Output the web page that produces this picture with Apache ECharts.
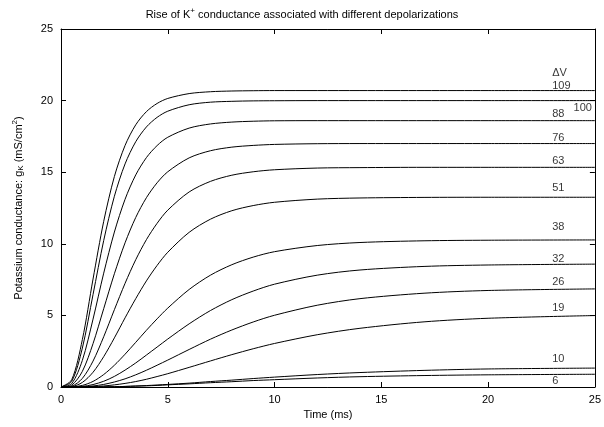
<!DOCTYPE html>
<html>
<head>
<meta charset="utf-8">
<script src="https://cdn.jsdelivr.net/npm/echarts@6/dist/echarts.min.js"></script>
<style>
html,body{margin:0;padding:0;background:#fff;}
#chart{width:604px;height:427px;}
</style>
</head>
<body>
<div id="chart"></div>
<script>
// Time samples (ms)
var timeMs = [0,0.5,1,1.5,2,2.5,3,3.5,4,4.5,5,6,7,8,9,10,12,14,17,20,25];

// Depolarizations (mV)
var depolarizations = ['109','100','88','76','63','51','38','32','26','19','10','6'];

// Potassium conductance (mS/cm^2), one array per depolarization
var g109 = [0,0.50,3.31,7.54,11.57,14.70,16.87,18.31,19.23,19.80,20.15,20.49,20.62,20.67,20.69,20.70,20.70,20.70,20.70,20.70,20.70];
var g100 = [0,0.39,2.72,6.46,10.23,13.32,15.58,17.13,18.16,18.83,19.26,19.71,19.89,19.95,19.98,19.99,20.00,20.00,20.00,20.00,20.00];
var g88  = [0,0.24,1.86,4.74,7.95,10.82,13.11,14.81,16.02,16.86,17.44,18.08,18.37,18.50,18.56,18.59,18.60,18.60,18.60,18.60,18.60];
var g76  = [0,0.13,1.09,3.03,5.47,7.91,10.07,11.84,13.22,14.26,15.03,16.00,16.50,16.75,16.87,16.94,16.99,17.00,17.00,17.00,17.00];
var g63  = [0,0.06,0.60,1.81,3.51,5.40,7.24,8.89,10.29,11.43,12.35,13.62,14.36,14.79,15.03,15.17,15.29,15.32,15.34,15.34,15.34];
var g51  = [0,0.03,0.32,1.03,2.12,3.43,4.83,6.17,7.41,8.49,9.41,10.80,11.72,12.31,12.67,12.90,13.12,13.20,13.24,13.25,13.25];
var g38  = [0,0.01,0.11,0.39,0.87,1.52,2.29,3.12,3.96,4.76,5.51,6.81,7.81,8.54,9.07,9.45,9.88,10.09,10.21,10.25,10.27];
var g32  = [0,0.00,0.04,0.17,0.40,0.74,1.18,1.68,2.23,2.79,3.35,4.41,5.34,6.10,6.70,7.18,7.81,8.17,8.42,8.52,8.58];
var g26  = [0,0.00,0.02,0.07,0.18,0.35,0.57,0.85,1.17,1.52,1.88,2.62,3.34,3.98,4.54,5.01,5.71,6.17,6.55,6.74,6.85];
var g19  = [0,0.00,0.01,0.03,0.07,0.15,0.25,0.38,0.54,0.73,0.93,1.37,1.82,2.26,2.67,3.04,3.65,4.10,4.55,4.80,4.99];
var g10  = [0,0.00,0.00,0.00,0.01,0.02,0.04,0.07,0.10,0.14,0.18,0.27,0.38,0.48,0.59,0.69,0.87,1.01,1.16,1.26,1.32];
var g6   = [0,0.00,0.00,0.004,0.01,0.02,0.04,0.06,0.08,0.11,0.15,0.22,0.30,0.37,0.45,0.51,0.63,0.72,0.80,0.85,0.89];

var curves = [g109,g100,g88,g76,g63,g51,g38,g32,g26,g19,g10,g6];

// Curve labels: text and their anchor in data space (time, conductance)
var labelTexts = ['\u0394V','109','100','88','76','63','51','38','32','26','19','10','6'];
var labelTime  = [23.0,23.0,24.0,23.0,23.0,23.0,23.0,23.0,23.0,23.0,23.0,23.0,23.0];
var labelCond  = [21.9,21.05,19.5,19.1,17.4,15.8,13.9,11.2,8.95,7.35,5.55,1.95,0.45];

// Axis ticks
var xTicks = {min:0, max:25, interval:5};
var yTicks = {min:0, max:25, interval:5};

var FONT = 'Liberation Sans, Arial, Helvetica, sans-serif';

var series = curves.map(function(vals, i){
  return {
    name: depolarizations[i],
    type: 'line',
    data: timeMs.map(function(t, k){ return [t, vals[k]]; }),
    showSymbol: false,
    smooth: 0.3,
    lineStyle: {color:'#000', width:1},
    itemStyle: {color:'#000'},
    silent: true,
    animation: false,
    z: 3
  };
});

series.push({
  type: 'scatter',
  symbolSize: 0,
  silent: true,
  animation: false,
  data: labelTexts.map(function(txt, i){ return {value:[labelTime[i], labelCond[i]], name: txt}; }),
  label: {
    show: true,
    position: 'right',
    distance: 0,
    formatter: function(p){ return p.name; },
    color: '#000',
    fontFamily: FONT,
    fontSize: 11
  },
  z: 5
});

var axisCommonX = {
  type:'value', min:xTicks.min, max:xTicks.max, interval:xTicks.interval,
  axisLine:{show:true, onZero:false, lineStyle:{color:'#000', width:1}},
  axisTick:{show:true, inside:true, length:5, lineStyle:{color:'#000'}},
  splitLine:{show:false}
};
var axisCommonY = {
  type:'value', min:yTicks.min, max:yTicks.max, interval:yTicks.interval,
  axisLine:{show:true, onZero:false, lineStyle:{color:'#000', width:1}},
  axisTick:{show:true, inside:true, length:5, lineStyle:{color:'#000'}},
  splitLine:{show:false}
};

var option = {
  backgroundColor:'#fff',
  animation:false,
  title: {
    text: 'Rise of K{sup|+} conductance associated with different depolarizations',
    left: 'center',
    top: 2,
    textStyle: {
      fontFamily: FONT, fontSize: 11, fontWeight: 'normal', color:'#000',
      rich: { sup: {fontSize: 8, fontFamily: FONT, color:'#000', padding:[0,0,7,0]} }
    }
  },
  grid: {left:61, right:5, top:29, bottom:40, containLabel:false},
  xAxis: [
    Object.assign({}, axisCommonX, {
      position:'bottom',
      name:'Time (ms)', nameLocation:'middle', nameGap:22,
      nameTextStyle:{fontFamily:FONT, fontSize:11, color:'#000'},
      axisLabel:{show:true, color:'#000', fontFamily:FONT, fontSize:11, margin:7}
    }),
    Object.assign({}, axisCommonX, {position:'top', axisLabel:{show:false}})
  ],
  yAxis: [
    Object.assign({}, axisCommonY, {
      position:'left',
      name:'Potassium conductance: g{sub|K} (mS/cm{sup|2})', nameLocation:'middle', nameGap:35, nameRotate:90,
      nameTextStyle:{fontFamily:FONT, fontSize:11, color:'#000',
        rich:{
          sub:{fontSize:8, fontFamily:FONT, color:'#000', padding:[5,0,0,0]},
          sup:{fontSize:8, fontFamily:FONT, color:'#000', padding:[0,0,7,0]}
        }},
      axisLabel:{show:true, color:'#000', fontFamily:FONT, fontSize:11, margin:8}
    }),
    Object.assign({}, axisCommonY, {position:'right', axisLabel:{show:false}})
  ],
  series: series
};

var chart = echarts.init(document.getElementById('chart'), null, {renderer:'canvas'});
chart.setOption(option);
</script>
</body>
</html>
